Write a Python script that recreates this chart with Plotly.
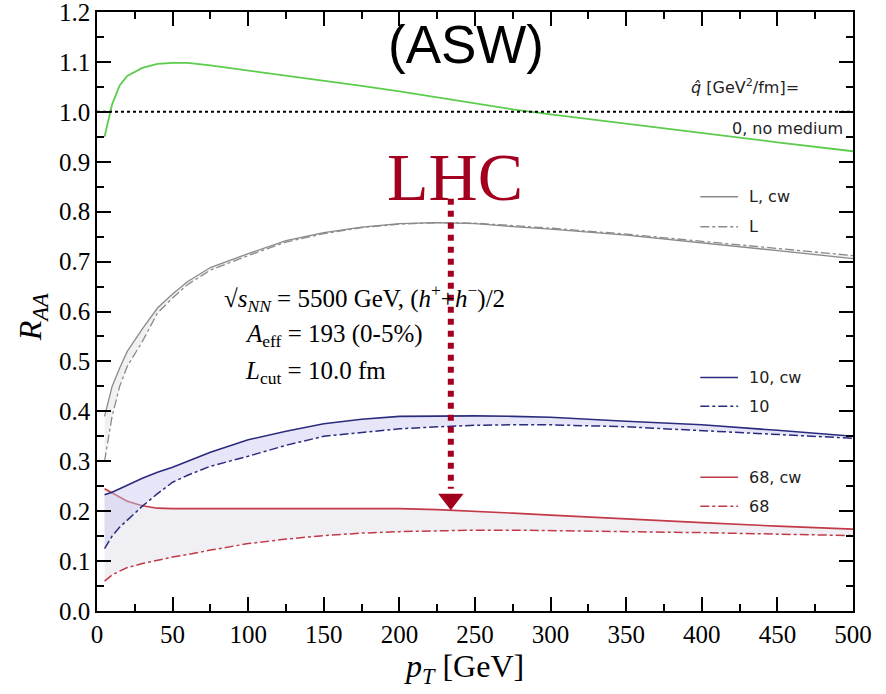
import plotly.graph_objects as go

# ---------------- data ----------------
pt = [5, 10, 15, 20, 30, 40, 50, 60, 75, 100, 125, 150, 175, 200, 225, 250, 275, 300, 350, 400, 450, 500]

raa_no_medium = [0.95, 1.015, 1.053, 1.072, 1.088, 1.096, 1.098, 1.098, 1.093, 1.083, 1.073, 1.062, 1.052,
                 1.041, 1.029, 1.017, 1.005, 0.995, 0.976, 0.958, 0.939, 0.921]

raa_1_cw = [0.39, 0.45, 0.487, 0.52, 0.565, 0.607, 0.635, 0.66, 0.688, 0.716, 0.742, 0.758, 0.769,
            0.776, 0.778, 0.776, 0.770, 0.765, 0.753, 0.738, 0.722, 0.706]
raa_1 = [0.30, 0.39, 0.45, 0.49, 0.54, 0.597, 0.627, 0.654, 0.683, 0.712, 0.739, 0.756, 0.768,
         0.775, 0.778, 0.777, 0.772, 0.767, 0.755, 0.741, 0.726, 0.712]

raa_10_cw = [0.233, 0.238, 0.245, 0.252, 0.266, 0.278, 0.288, 0.300, 0.318, 0.343, 0.360, 0.375, 0.384,
             0.390, 0.391, 0.391, 0.390, 0.388, 0.380, 0.373, 0.362, 0.350]
raa_10 = [0.125, 0.150, 0.168, 0.182, 0.210, 0.235, 0.258, 0.272, 0.290, 0.310, 0.332, 0.350, 0.358,
          0.365, 0.369, 0.372, 0.373, 0.373, 0.369, 0.361, 0.353, 0.346]

raa_68_cw = [0.245, 0.237, 0.228, 0.220, 0.211, 0.206, 0.205, 0.205, 0.205, 0.205, 0.205, 0.206, 0.206,
             0.205, 0.203, 0.200, 0.196, 0.192, 0.184, 0.177, 0.170, 0.164]
raa_68 = [0.060, 0.072, 0.080, 0.087, 0.095, 0.102, 0.108, 0.113, 0.122, 0.135, 0.144, 0.151, 0.156,
          0.159, 0.161, 0.162, 0.162, 0.161, 0.160, 0.157, 0.154, 0.151]

x_ticks = [0, 50, 100, 150, 200, 250, 300, 350, 400, 450, 500]
y_ticks = [0.0, 0.1, 0.2, 0.3, 0.4, 0.5, 0.6, 0.7, 0.8, 0.9, 1.0, 1.1, 1.2]

legend_labels = ["L, cw", "L", "10, cw", "10", "68, cw", "68"]
legend_y = [0.83, 0.77, 0.468, 0.41, 0.268, 0.21]

lhc_arrow_pt = 234
lhc_arrow_top = 0.826
lhc_arrow_bottom = 0.245
lhc_arrow_tip = 0.224

# ---------------- styles ----------------
GREEN = "#5ccc4c"
GRAY = "#8a8a8a"
BLUE = "#2b2b7e"
RED = "#c23a48"
DARK_RED = "#a3001f"
SERIF = "Liberation Serif, Times New Roman, serif"
SANS = "DejaVu Sans, sans-serif"

fig = go.Figure()

# gray band (1 GeV^2/fm)
fig.add_trace(go.Scatter(x=pt, y=raa_1, mode="lines",
                         line=dict(color=GRAY, width=1.3, dash="dashdot"), showlegend=False))
fig.add_trace(go.Scatter(x=pt, y=raa_1_cw, mode="lines", fill="tonexty",
                         fillcolor="rgba(215,215,215,0.35)",
                         line=dict(color=GRAY, width=1.3), showlegend=False))

# red band (68)
fig.add_trace(go.Scatter(x=pt, y=raa_68, mode="lines",
                         line=dict(color=RED, width=1.5, dash="dashdot"), showlegend=False))
fig.add_trace(go.Scatter(x=pt, y=raa_68_cw, mode="lines", fill="tonexty",
                         fillcolor="rgba(232,230,236,0.65)",
                         line=dict(color=RED, width=1.6), showlegend=False))

# blue band (10)
fig.add_trace(go.Scatter(x=pt, y=raa_10, mode="lines",
                         line=dict(color=BLUE, width=1.5, dash="dashdot"), showlegend=False))
fig.add_trace(go.Scatter(x=pt, y=raa_10_cw, mode="lines", fill="tonexty",
                         fillcolor="rgba(200,200,240,0.45)",
                         line=dict(color=BLUE, width=1.6), showlegend=False))

# no medium
fig.add_trace(go.Scatter(x=pt, y=raa_no_medium, mode="lines",
                         line=dict(color=GREEN, width=1.8), showlegend=False))

# arrow head of LHC arrow
fig.add_trace(go.Scatter(x=[lhc_arrow_pt], y=[lhc_arrow_tip], mode="markers",
                         marker=dict(symbol="triangle-down", size=22, color=DARK_RED),
                         showlegend=False, hoverinfo="skip"))

shapes = []
# reference line at R_AA = 1
shapes.append(dict(type="line", xref="paper", yref="y", x0=0, x1=1, y0=1.0, y1=1.0,
                   line=dict(color="black", width=2, dash="dot")))
# LHC dotted arrow shaft
shapes.append(dict(type="line", xref="x", yref="y", x0=lhc_arrow_pt, x1=lhc_arrow_pt,
                   y0=lhc_arrow_top, y1=lhc_arrow_bottom,
                   line=dict(color=DARK_RED, width=6, dash="dot")))

# legend samples
legend_colors = [GRAY, GRAY, BLUE, BLUE, RED, RED]
legend_dash = ["solid", "dashdot", "solid", "dashdot", "solid", "dashdot"]
annotations = []
for lab, ly, c, d in zip(legend_labels, legend_y, legend_colors, legend_dash):
    shapes.append(dict(type="line", xref="x", yref="y", x0=399, x1=424, y0=ly, y1=ly,
                       line=dict(color=c, width=1.5, dash=d)))
    annotations.append(dict(x=430, y=ly, xref="x", yref="y", text=lab, showarrow=False,
                            xanchor="left", yanchor="middle",
                            font=dict(family=SANS, size=16, color="#222")))

annotations += [
    dict(x=428.6, y=1.05, xref="x", yref="y", showarrow=False, xanchor="center", yanchor="middle",
         text="<i>q̂</i> [GeV<sup>2</sup>/fm]=", font=dict(family=SANS, size=16, color="#222")),
    dict(x=495, y=0.967, xref="x", yref="y", showarrow=False, xanchor="right", yanchor="middle",
         text="0, no medium", font=dict(family=SANS, size=16, color="#222")),
    dict(x=0.488, y=1.0, xref="paper", yref="paper", yanchor="top", xanchor="center", showarrow=False,
         yshift=-1, text="(ASW)", font=dict(family="Liberation Sans, Arial, sans-serif", size=53, color="black")),
    dict(x=lhc_arrow_pt + 3, y=0.789, xref="x", yref="y", showarrow=False, xanchor="center", yanchor="bottom",
         text="LHC", font=dict(family=SERIF, size=68, color=DARK_RED)),
    dict(x=82.7, y=0.628, xref="x", yref="y", showarrow=False, xanchor="left", yanchor="middle",
         text="√<i>s</i><sub><i>NN</i></sub> = 5500 GeV, (<i>h</i><sup>+</sup>+<i>h</i><sup>−</sup>)/2",
         font=dict(family=SERIF, size=25, color="black")),
    dict(x=96.6, y=0.552, xref="x", yref="y", showarrow=False, xanchor="left", yanchor="middle",
         text="<i>A</i><sub>eff</sub> = 193 (0-5%)", font=dict(family=SERIF, size=25, color="black")),
    dict(x=96.6, y=0.478, xref="x", yref="y", showarrow=False, xanchor="left", yanchor="middle",
         text="<i>L</i><sub>cut</sub> = 10.0 fm", font=dict(family=SERIF, size=25, color="black")),
    # axis titles
    dict(x=0.486, y=-0.058, xref="paper", yref="paper", showarrow=False, xanchor="center", yanchor="top",
         text="<i>p</i><sub><i>T</i></sub> [GeV]", font=dict(family=SERIF, size=32, color="black")),
    dict(x=-0.085, y=0.49, xref="paper", yref="paper", showarrow=False, xanchor="center", yanchor="middle",
         textangle=-90, text="<i>R</i><sub><i>AA</i></sub>", font=dict(family=SERIF, size=32, color="black")),
]

axis_common = dict(showline=True, linecolor="black", linewidth=1.5, mirror="allticks",
                   ticks="inside", ticklen=14, tickwidth=1.5, tickcolor="black",
                   showgrid=False, zeroline=False, automargin=False,
                   ticklabeloverflow="allow",
                   tickfont=dict(family=SERIF, size=25, color="black"))

fig.update_layout(
    width=886, height=694,
    margin=dict(l=97, r=33, t=12, b=83, autoexpand=False),
    plot_bgcolor="white", paper_bgcolor="white",
    xaxis=dict(range=[0, 500], tickvals=x_ticks, ticktext=[str(v) for v in x_ticks],
               minor=dict(ticks="inside", ticklen=7, dtick=25, tickcolor="black", tickwidth=1.5),
               **axis_common),
    yaxis=dict(range=[0, 1.2], tickvals=y_ticks, ticktext=[f"{v:.1f}" for v in y_ticks],
               minor=dict(ticks="inside", ticklen=7, dtick=0.05, tickcolor="black", tickwidth=1.5),
               **axis_common),
    shapes=shapes,
    annotations=annotations,
    showlegend=False,
)

# remove the default page margin so the 886x694 figure fills the window exactly
fig.write_html("out.html",
               config={"displayModeBar": False},
               post_script="document.body.style.margin='0';document.body.style.overflow='hidden';")
